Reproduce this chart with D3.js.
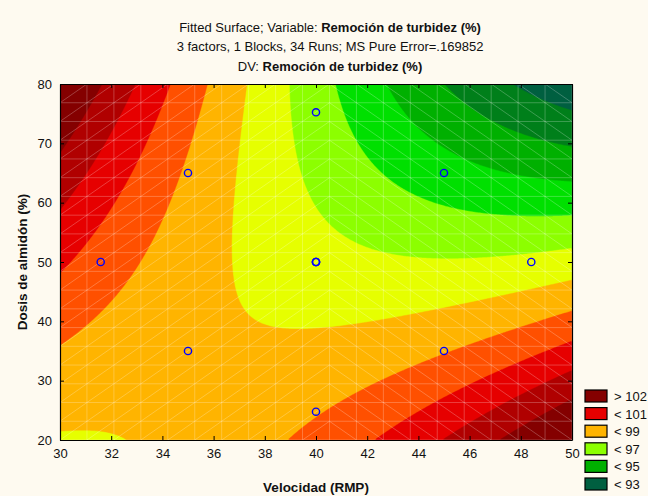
<!DOCTYPE html>
<html>
<head>
<meta charset="utf-8">
<script src="https://cdn.jsdelivr.net/npm/d3@7"></script>
<style>
  html, body { margin: 0; padding: 0; background: #fefaf0; }
  svg { display: block; font-family: "Liberation Sans", Arial, sans-serif; }
</style>
</head>
<body>
<svg id="chart" width="648" height="496"></svg>
<script>
// Fitted second-order model, coded units: xV = (V - 40) / 5, xD = (D - 50) / 15
// [intercept, V, D, V*D, V^2, D^2]
const modelCoefficients = [97.4, -0.685, -0.72, -1.0375, 0.35, 0.1125];
const modelCenter = [40, 50];
const modelStep = [5, 15];

// Design runs projected on the Velocidad x Dosis plane
const runVelocidad = [31.59, 35, 35, 40, 40, 40, 40, 40, 45, 45, 48.41];
const runDosis     = [50, 65, 35, 75.23, 50, 50, 50, 24.77, 65, 35, 50];

// Contour levels and band fills (lowest band first)
const contourLevels = [93, 94, 95, 96, 97, 98, 99, 100, 101, 102];
const bandColors = ["#005f40", "#007f1a", "#00b000", "#00e000", "#8cff00", "#e6ff00",
                    "#ffb400", "#ff5000", "#e60000", "#b00000", "#840000"];

// Legend
const legendLabels = ["> 102", "< 101", "< 99", "< 97", "< 95", "< 93"];
const legendColors = ["#840000", "#e60000", "#ffb400", "#8cff00", "#00b000", "#005f40"];

// Axes
const xDomain = [30, 50];
const yDomain = [20, 80];
const xTicks = d3.range(30, 51, 2);
const yTicks = d3.range(20, 81, 10);

const titleLines = [
  [["Fitted Surface; Variable: ", false], ["Remoción de turbidez (%)", true]],
  [["3 factors, 1 Blocks, 34 Runs; MS Pure Error=.169852", false]],
  [["DV: ", false], ["Remoción de turbidez (%)", true]]
];
const xLabel = "Velocidad (RMP)";
const yLabel = "Dosis de almidón (%)";

const svg = d3.select("#chart");
const W = 648, H = 496;
const plot = { left: 60, right: 572, top: 84, bottom: 440 };

svg.append("rect").attr("width", W).attr("height", H).attr("fill", "#fefaf0");

const x = d3.scaleLinear().domain(xDomain).range([plot.left, plot.right]);
const y = d3.scaleLinear().domain(yDomain).range([plot.bottom, plot.top]);

function surface(v, d) {
  const a = (v - modelCenter[0]) / modelStep[0];
  const b = (d - modelCenter[1]) / modelStep[1];
  const c = modelCoefficients;
  return c[0] + c[1] * a + c[2] * b + c[3] * a * b + c[4] * a * a + c[5] * b * b;
}

// Sample the surface on a fine grid (row 0 = top)
const nx = 320, ny = 220;
const values = new Array(nx * ny);
for (let j = 0; j < ny; j++) {
  const d = yDomain[1] - (j + 0.5) * (yDomain[1] - yDomain[0]) / ny;
  for (let i = 0; i < nx; i++) {
    const v = xDomain[0] + (i + 0.5) * (xDomain[1] - xDomain[0]) / nx;
    values[j * nx + i] = surface(v, d);
  }
}

const contours = d3.contours().size([nx, ny]).thresholds(contourLevels)(values);
const gridToPx = d3.geoTransform({
  point: function (gx, gy) {
    this.stream.point(
      x(xDomain[0] + gx * (xDomain[1] - xDomain[0]) / nx),
      y(yDomain[1] - gy * (yDomain[1] - yDomain[0]) / ny)
    );
  }
});
const path = d3.geoPath(gridToPx);

svg.append("clipPath").attr("id", "plotClip")
  .append("rect")
  .attr("x", plot.left).attr("y", plot.top)
  .attr("width", plot.right - plot.left).attr("height", plot.bottom - plot.top);

const gPlot = svg.append("g").attr("clip-path", "url(#plotClip)");
gPlot.append("rect")
  .attr("x", plot.left).attr("y", plot.top)
  .attr("width", plot.right - plot.left).attr("height", plot.bottom - plot.top)
  .attr("fill", bandColors[0]);
gPlot.selectAll("path.band")
  .data(contours)
  .join("path")
  .attr("class", "band")
  .attr("d", path)
  .attr("fill", (c, i) => bandColors[i + 1])
  .attr("stroke", (c, i) => bandColors[i + 1])
  .attr("stroke-width", 0.4);

// Surface mesh: 19 x 19 cells, each split by a diagonal
const meshN = 19;
const meshV = d3.range(meshN + 1).map(k => xDomain[0] + k * (xDomain[1] - xDomain[0]) / meshN);
const meshD = d3.range(meshN + 1).map(k => yDomain[0] + k * (yDomain[1] - yDomain[0]) / meshN);
let mesh = "";
meshV.forEach(v => { mesh += `M${x(v)},${plot.top}V${plot.bottom}`; });
meshD.forEach(d => { mesh += `M${plot.left},${y(d)}H${plot.right}`; });
for (let i = 0; i < meshN; i++) {
  for (let j = 0; j < meshN; j++) {
    if (i < meshN / 2) {
      mesh += `M${x(meshV[i])},${y(meshD[j])}L${x(meshV[i + 1])},${y(meshD[j + 1])}`;
    } else {
      mesh += `M${x(meshV[i])},${y(meshD[j + 1])}L${x(meshV[i + 1])},${y(meshD[j])}`;
    }
  }
}
gPlot.append("path").attr("d", mesh)
  .attr("fill", "none").attr("stroke", "#ffffff")
  .attr("stroke-opacity", 0.3).attr("stroke-width", 0.8);

// Design points
gPlot.selectAll("circle.run")
  .data(runVelocidad.map((v, i) => [v, runDosis[i]]))
  .join("circle")
  .attr("class", "run")
  .attr("cx", p => x(p[0])).attr("cy", p => y(p[1]))
  .attr("r", 3.6)
  .attr("fill", "none").attr("stroke", "#0000ff").attr("stroke-width", 1.4);

// Axes with inner ticks on all four sides
const tickFont = 13;
const axB = svg.append("g").attr("transform", `translate(0,${plot.bottom})`)
  .call(d3.axisBottom(x).tickValues(xTicks).tickSizeInner(-4).tickSizeOuter(0).tickPadding(9));
const axL = svg.append("g").attr("transform", `translate(${plot.left},0)`)
  .call(d3.axisLeft(y).tickValues(yTicks).tickSizeInner(-4).tickSizeOuter(0).tickPadding(8));
const axT = svg.append("g").attr("transform", `translate(0,${plot.top})`)
  .call(d3.axisTop(x).tickValues(xTicks).tickSizeInner(-4).tickSizeOuter(0).tickFormat(""));
const axR = svg.append("g").attr("transform", `translate(${plot.right},0)`)
  .call(d3.axisRight(y).tickValues(yTicks).tickSizeInner(-4).tickSizeOuter(0).tickFormat(""));
[axB, axL, axT, axR].forEach(g => {
  g.selectAll(".domain").attr("stroke", "#000").attr("stroke-width", 1.2);
  g.selectAll(".tick line").attr("stroke", "#000");
  g.selectAll("text").attr("font-size", tickFont).attr("fill", "#111")
    .attr("font-family", "Liberation Sans, Arial, sans-serif");
});

// Titles
const titleY = [32, 51, 71];
titleLines.forEach((parts, k) => {
  const t = svg.append("text")
    .attr("x", 330).attr("y", titleY[k])
    .attr("text-anchor", "middle")
    .attr("font-size", 13).attr("fill", "#111");
  parts.forEach(p => t.append("tspan").text(p[0]).attr("font-weight", p[1] ? "bold" : "normal"));
});

// Axis titles
svg.append("text")
  .attr("x", 316).attr("y", 492)
  .attr("text-anchor", "middle").attr("font-size", 13.5).attr("font-weight", "bold")
  .attr("fill", "#111").text(xLabel);
svg.append("text")
  .attr("transform", `translate(27,${(plot.top + plot.bottom) / 2}) rotate(-90)`)
  .attr("text-anchor", "middle").attr("font-size", 13.5).attr("font-weight", "bold")
  .attr("fill", "#111").text(yLabel);

// Legend
const legend = svg.append("g").attr("transform", "translate(585,390)");
legendLabels.forEach((lab, i) => {
  const row = legend.append("g").attr("transform", `translate(0,${i * 17.6})`);
  row.append("rect").attr("x", 0).attr("y", 0).attr("width", 22).attr("height", 12)
    .attr("fill", legendColors[i]).attr("stroke", "#000").attr("stroke-width", 1.2);
  row.append("text").attr("x", 29).attr("y", 11)
    .attr("font-size", 13).attr("fill", "#111").text(lab);
});
</script>
</body>
</html>
